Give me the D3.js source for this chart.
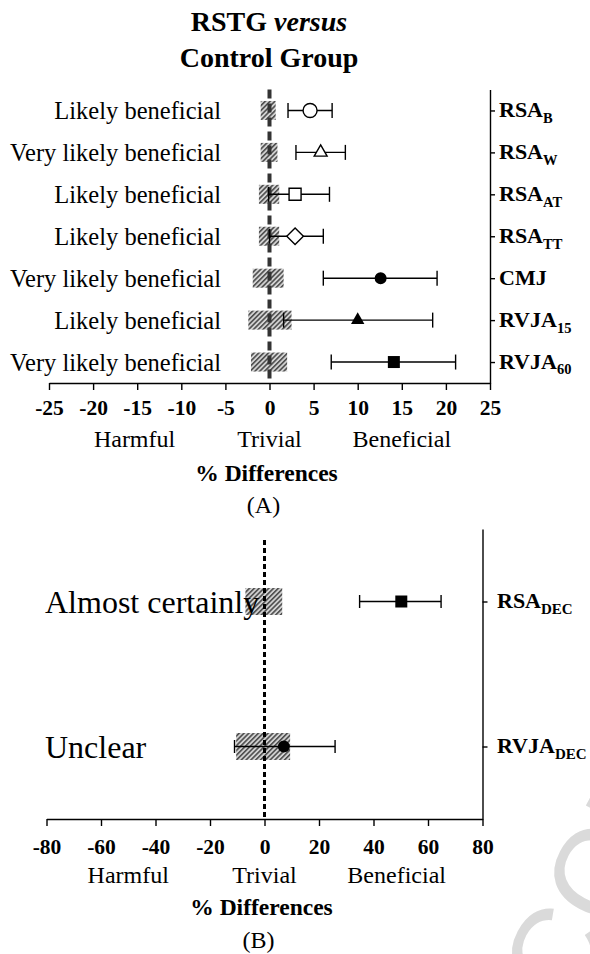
<!DOCTYPE html>
<html>
<head>
<meta charset="utf-8">
<script src="https://cdn.jsdelivr.net/npm/d3@7"></script>
<style>
  body { margin: 0; background: #fff; }
  svg { display: block; font-family: "Liberation Serif", "Times New Roman", serif; }
</style>
</head>
<body>
<div id="chart"></div>
<script>
// panel A: RSTG versus control group
const outcomesA = ['RSA', 'RSA', 'RSA', 'RSA', 'CMJ', 'RVJA', 'RVJA'];
const subsA = ['B', 'W', 'AT', 'TT', '', '15', '60'];
const inferenceA = ['Likely beneficial', 'Very likely beneficial', 'Likely beneficial',
  'Likely beneficial', 'Very likely beneficial', 'Likely beneficial', 'Very likely beneficial'];
const meanA = [4.6, 5.8, 2.9, 2.9, 12.6, 10.0, 14.1];
const lowA = [2.1, 3.0, -0.1, 0.0, 6.1, 1.6, 7.0];
const highA = [7.1, 8.6, 6.8, 6.1, 19.0, 18.5, 21.1];
const trivLowA = [-1.0, -1.0, -1.2, -1.2, -1.9, -2.4, -2.1];
const trivHighA = [0.7, 0.9, 1.1, 1.1, 1.6, 2.5, 2.0];
const shapeA = ['circle', 'triangle', 'square', 'diamond', 'circle', 'triangle', 'square'];
const filledA = [false, false, false, false, true, true, true];
const ticksA = [-25, -20, -15, -10, -5, 0, 5, 10, 15, 20, 25];
const zonesA = [-15.3, 0, 15];

// panel B
const outcomesB = ['RSA', 'RVJA'];
const subsB = ['DEC', 'DEC'];
const inferenceB = ['Almost certainly', 'Unclear'];
const meanB = [50.2, 7.1];
const lowB = [34.9, -11.0];
const highB = [64.8, 25.9];
const trivLowB = [-7.0, -10.4];
const trivHighB = [6.5, 9.4];
const shapeB = ['square', 'circle'];
const filledB = [true, true];
const ticksB = [-80, -60, -40, -20, 0, 20, 40, 60, 80];
const zonesB = [-50, 0, 48.5];

const zoneNames = ['Harmful', 'Trivial', 'Beneficial'];

const width = 590, height = 954;

const svg = d3.select('#chart')
  .append('svg')
  .attr('width', width)
  .attr('height', height);

let defs = svg.append('defs');
let pat = defs.append('pattern')
  .attr('id', 'hatch')
  .attr('patternUnits', 'userSpaceOnUse')
  .attr('width', 3.4)
  .attr('height', 3.4)
  .attr('patternTransform', 'rotate(45)');
pat.append('rect').attr('width', 3.4).attr('height', 3.4).attr('fill', '#d2d2d2');
pat.append('line')
  .attr('x1', 0.8).attr('y1', 0).attr('x2', 0.8).attr('y2', 3.4)
  .attr('stroke', '#111').attr('stroke-width', 1.1);

// watermark
svg.append('text')
  .attr('transform', 'translate(533,1088) rotate(-62)')
  .attr('font-family', '"Liberation Sans", Arial, sans-serif')
  .attr('font-size', 125)
  .attr('fill', '#dadada')
  .text('ACCEPTED MANUSCRIPT');

// title
let title = svg.append('text')
  .attr('x', 269).attr('y', 31)
  .attr('text-anchor', 'middle')
  .attr('font-size', 28).attr('font-weight', 'bold');
title.append('tspan').text('RSTG ');
title.append('tspan').attr('font-style', 'italic').text('versus');
svg.append('text')
  .attr('x', 269).attr('y', 67)
  .attr('text-anchor', 'middle')
  .attr('font-size', 28).attr('font-weight', 'bold')
  .text('Control Group');

let symbolFor = (shape, filled) => {
  switch (shape) {
    case 'circle': return d3.symbol(d3.symbolCircle, filled ? 113 : 154)();
    case 'triangle': return d3.symbol(d3.symbolTriangle, filled ? 78 : 72)();
    case 'square': return d3.symbol(d3.symbolSquare, 144)();
    case 'diamond': return d3.symbol(d3.symbolSquare, 138)();
  }
};

function panel(opts) {
  let {
    outcomes, subs, inference, mean, low, high, trivLow, trivHigh, shape, filled,
    ticks, zones, domain, xRange, yRange, boxH, capH, zero, labelSize, subSize,
    leftX, leftAnchor, leftSize, tickBase, zoneBase, titleBase, tagBase, tag, rightX
  } = opts;

  let x = d3.scaleLinear().domain(domain).range(xRange);
  let y = d3.scalePoint().domain(d3.range(outcomes.length)).range(yRange).padding(0.5);
  let g = svg.append('g');
  let axisY = yRange[1];

  // trivial zone boxes
  g.selectAll('.triv')
    .data(d3.range(outcomes.length))
    .enter().append('rect')
    .attr('class', 'triv')
    .attr('x', i => x(trivLow[i]))
    .attr('width', i => x(trivHigh[i]) - x(trivLow[i]))
    .attr('y', i => y(i) - boxH / 2)
    .attr('height', boxH)
    .attr('fill', 'url(#hatch)');

  // zero line
  g.append('line')
    .attr('x1', x(0)).attr('x2', x(0))
    .attr('y1', zero.top).attr('y2', axisY)
    .attr('stroke', zero.color)
    .attr('stroke-width', zero.width)
    .attr('stroke-dasharray', zero.dash);

  // confidence intervals
  let ci = g.selectAll('.ci')
    .data(d3.range(outcomes.length))
    .enter().append('g')
    .attr('class', 'ci')
    .attr('stroke', '#000')
    .attr('stroke-width', 1.4);
  ci.append('line')
    .attr('x1', i => x(low[i])).attr('x2', i => x(high[i]))
    .attr('y1', i => y(i)).attr('y2', i => y(i));
  ci.append('line')
    .attr('x1', i => x(low[i])).attr('x2', i => x(low[i]))
    .attr('y1', i => y(i) - capH / 2).attr('y2', i => y(i) + capH / 2);
  ci.append('line')
    .attr('x1', i => x(high[i])).attr('x2', i => x(high[i]))
    .attr('y1', i => y(i) - capH / 2).attr('y2', i => y(i) + capH / 2);

  // point estimates
  g.selectAll('.pt')
    .data(d3.range(outcomes.length))
    .enter().append('path')
    .attr('class', 'pt')
    .attr('d', i => symbolFor(shape[i], filled[i]))
    .attr('transform', i => `translate(${x(mean[i])},${y(i)})` + (shape[i] === 'diamond' ? ' rotate(45)' : ''))
    .attr('fill', i => filled[i] ? '#000' : '#fff')
    .attr('stroke', '#000')
    .attr('stroke-width', i => filled[i] ? 0 : 1.4);

  // bottom axis
  let xAxis = g.append('g')
    .attr('transform', `translate(0,${axisY})`)
    .call(d3.axisBottom(x)
      .tickValues(ticks)
      .tickSize(7)
      .tickSizeOuter(0)
      .tickPadding(tickBase)
      .tickFormat(d => String(d)));
  xAxis.select('.domain').attr('stroke-width', 1.4);
  xAxis.selectAll('.tick line').attr('stroke-width', 1.4);
  xAxis.selectAll('.tick text')
    .attr('font-family', '"Liberation Serif", serif')
    .attr('font-size', 21.5)
    .attr('font-weight', 'bold')
    .attr('fill', '#000');

  // right axis
  let yAxis = g.append('g')
    .attr('transform', `translate(${xRange[1]},0)`)
    .call(d3.axisRight(y).tickSize(5).tickSizeOuter(0).tickFormat(''));
  yAxis.select('.domain').attr('stroke-width', 1.4);
  yAxis.selectAll('.tick line').attr('stroke-width', 1.4);

  // outcome labels with subscripts
  let lab = g.selectAll('.outcome')
    .data(d3.range(outcomes.length))
    .enter().append('text')
    .attr('class', 'outcome')
    .attr('x', rightX)
    .attr('y', i => y(i) + labelSize * 0.3)
    .attr('font-size', labelSize)
    .attr('font-weight', 'bold');
  lab.append('tspan').text(i => outcomes[i]);
  lab.append('tspan')
    .attr('font-size', subSize)
    .attr('dy', subSize * 0.4)
    .text(i => subs[i]);

  // inference labels
  g.selectAll('.inf')
    .data(d3.range(outcomes.length))
    .enter().append('text')
    .attr('class', 'inf')
    .attr('x', leftX)
    .attr('y', i => y(i))
    .attr('dy', '0.36em')
    .attr('text-anchor', leftAnchor)
    .attr('font-size', leftSize)
    .text(i => inference[i]);

  // zone names
  g.selectAll('.zone')
    .data(zones)
    .enter().append('text')
    .attr('class', 'zone')
    .attr('x', d => x(d))
    .attr('y', zoneBase)
    .attr('text-anchor', 'middle')
    .attr('font-size', 24)
    .text((d, i) => zoneNames[i]);

  g.append('text')
    .attr('x', x(0) - 3).attr('y', titleBase)
    .attr('text-anchor', 'middle')
    .attr('font-size', 23.5).attr('font-weight', 'bold')
    .text('% Differences');

  g.append('text')
    .attr('x', x(0) - 6).attr('y', tagBase)
    .attr('text-anchor', 'middle')
    .attr('font-size', 24)
    .text(tag);
}

panel({
  outcomes: outcomesA, subs: subsA, inference: inferenceA,
  mean: meanA, low: lowA, high: highA, trivLow: trivLowA, trivHigh: trivHighA,
  shape: shapeA, filled: filledA, ticks: ticksA, zones: zonesA,
  domain: [-25, 25], xRange: [49, 490], yRange: [89.5, 383],
  boxH: 19, capH: 15,
  zero: { top: 89.5, color: '#333', width: 4, dash: '9,5' },
  labelSize: 22, subSize: 14.5, rightX: 499,
  leftX: 221, leftAnchor: 'end', leftSize: 24.5,
  tickBase: 10, zoneBase: 447, titleBase: 481, tagBase: 513, tag: '(A)'
});

panel({
  outcomes: outcomesB, subs: subsB, inference: inferenceB,
  mean: meanB, low: lowB, high: highB, trivLow: trivLowB, trivHigh: trivHighB,
  shape: shapeB, filled: filledB, ticks: ticksB, zones: zonesB,
  domain: [-80, 80], xRange: [46.5, 482.5], yRange: [529, 819],
  boxH: 27, capH: 13,
  zero: { top: 540, color: '#000', width: 3, dash: '5,3' },
  labelSize: 22, subSize: 15, rightX: 497,
  leftX: 45, leftAnchor: 'start', leftSize: 32,
  tickBase: 13, zoneBase: 883, titleBase: 915, tagBase: 948, tag: '(B)'
});
</script>
</body>
</html>
